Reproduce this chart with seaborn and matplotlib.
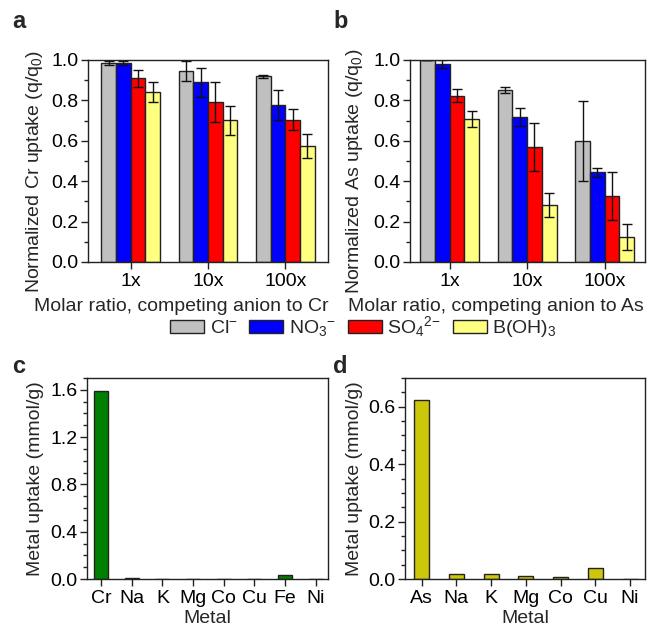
import numpy as np
import pandas as pd
import matplotlib
matplotlib.use("Agg")
import matplotlib.pyplot as plt
from matplotlib.ticker import MultipleLocator
import seaborn as sns

# ---------------- data ----------------
ratios = ["1x", "10x", "100x"]
anions = ["Cl$^{-}$", "NO$_3$$^{-}$", "SO$_4$$^{2{-}}$", "B(OH)$_3$"]

cr_cl = [0.987, 0.945, 0.920]
cr_no3 = [0.987, 0.890, 0.776]
cr_so4 = [0.909, 0.791, 0.705]
cr_boh = [0.841, 0.701, 0.575]
cr_cl_err = [0.010, 0.050, 0.007]
cr_no3_err = [0.010, 0.072, 0.075]
cr_so4_err = [0.042, 0.100, 0.050]
cr_boh_err = [0.048, 0.070, 0.060]

as_cl = [1.000, 0.851, 0.597]
as_no3 = [0.982, 0.718, 0.444]
as_so4 = [0.824, 0.569, 0.328]
as_boh = [0.710, 0.282, 0.123]
as_cl_err = [0.000, 0.016, 0.198]
as_no3_err = [0.020, 0.045, 0.022]
as_so4_err = [0.030, 0.120, 0.120]
as_boh_err = [0.040, 0.060, 0.065]

metals_c = ["Cr", "Na", "K", "Mg", "Co", "Cu", "Fe", "Ni"]
uptake_c = [1.586, 0.011, 0.0, 0.0, 0.0, 0.0, 0.031, 0.0]
metals_d = ["As", "Na", "K", "Mg", "Co", "Cu", "Ni"]
uptake_d = [0.623, 0.0185, 0.0185, 0.0104, 0.0058, 0.038, 0.0]

anion_colors = ["#C0C0C0", "#0000FF", "#FF0000", "#FFFF80"]
green = "#007F00"
olive = "#CCC70A"

# ---------------- style ----------------
sns.set_style("ticks")
plt.rcParams["font.family"] = ["Liberation Sans", "DejaVu Sans"]
plt.rcParams["mathtext.fontset"] = "custom"
plt.rcParams["mathtext.rm"] = "Liberation Sans"
plt.rcParams["mathtext.it"] = "Liberation Sans:italic"
plt.rcParams["mathtext.bf"] = "Liberation Sans:bold"
FS = 14
plt.rcParams["font.size"] = FS
plt.rcParams["axes.linewidth"] = 1.0
plt.rcParams["axes.edgecolor"] = "#222222"
plt.rcParams["xtick.color"] = "#222222"
plt.rcParams["ytick.color"] = "#222222"
plt.rcParams["xtick.labelcolor"] = "black"
plt.rcParams["ytick.labelcolor"] = "black"

W, H = 651, 627
fig = plt.figure(figsize=(W / 100, H / 100), dpi=100)


def box(l, r, t, b):
    return [l / W, 1 - b / H, (r - l) / W, (b - t) / H]


ax_a = fig.add_axes(box(88, 328, 60, 262))
ax_b = fig.add_axes(box(410, 645, 60, 262))
ax_c = fig.add_axes(box(87, 328, 378, 579))
ax_d = fig.add_axes(box(405, 645, 378, 579))


def grouped(ax, vals, errs, elem, xlim, ylab_x, xlab_x):
    rows = []
    for a, v in zip(anions, vals):
        for r, y in zip(ratios, v):
            rows.append({"ratio": r, "anion": a, "value": y})
    df = pd.DataFrame(rows)
    sns.barplot(data=df, x="ratio", y="value", hue="anion", order=ratios,
                hue_order=anions, palette=anion_colors, width=0.76,
                edgecolor="#222222", linewidth=1.0, errorbar=None,
                legend=False, ax=ax, saturation=1)
    for cont, e in zip(ax.containers, errs):
        xs = [p.get_x() + p.get_width() / 2 for p in cont]
        ys = [p.get_height() for p in cont]
        ax.errorbar(xs, ys, yerr=e, fmt="none", ecolor="#111111",
                    elinewidth=1.0, capsize=3.6, capthick=1.0)
    ax.set_ylim(0, 1.0)
    ax.set_xlim(*xlim)
    ax.yaxis.set_major_locator(MultipleLocator(0.2))
    ax.yaxis.set_minor_locator(MultipleLocator(0.1))
    ax.set_ylabel(f"Normalized {elem} uptake (q/q$_0$)", fontsize=FS)
    ax.set_xlabel(f"Molar ratio, competing anion to {elem}", fontsize=FS)
    ax.yaxis.set_label_coords(ylab_x, 0.45)
    ax.xaxis.set_label_coords(xlab_x, -0.178)
    for s in ax.spines.values():
        s.set_visible(True)


grouped(ax_a, [cr_cl, cr_no3, cr_so4, cr_boh],
        [cr_cl_err, cr_no3_err, cr_so4_err, cr_boh_err], "Cr", (-0.55, 2.55),
        -0.179, 0.3875)
grouped(ax_b, [as_cl, as_no3, as_so4, as_boh],
        [as_cl_err, as_no3_err, as_so4_err, as_boh_err], "As", (-0.51, 2.52),
        -0.191, 0.366)


def metal(ax, names, vals, color, width, ylim, major, minor, xlim, ylab_x):
    df = pd.DataFrame({"metal": names, "uptake": vals})
    sns.barplot(data=df, x="metal", y="uptake", order=names, color=color,
                width=width, edgecolor="#222222", linewidth=1.0,
                errorbar=None, ax=ax, saturation=1)
    ax.set_ylim(*ylim)
    ax.set_xlim(*xlim)
    ax.yaxis.set_major_locator(MultipleLocator(major))
    ax.yaxis.set_minor_locator(MultipleLocator(minor))
    ax.set_ylabel("Metal uptake (mmol/g)", fontsize=FS)
    ax.set_xlabel("Metal", fontsize=FS)
    ax.yaxis.set_label_coords(ylab_x, 0.5)
    ax.xaxis.set_label_coords(0.5, -0.155)
    for s in ax.spines.values():
        s.set_visible(True)


metal(ax_c, metals_c, uptake_c, green, 0.46, (0, 1.7), 0.4, 0.1, (-0.46, 7.4), -0.178)
metal(ax_d, metals_d, uptake_d, olive, 0.43, (0, 0.7), 0.2, 0.05, (-0.48, 6.43), -0.175)

for ax in (ax_a, ax_b, ax_c, ax_d):
    ax.tick_params(axis="both", which="major", direction="out", length=5,
                   width=1.0, labelsize=FS, pad=2)
    ax.tick_params(axis="x", which="major", pad=3)
    ax.tick_params(axis="y", which="minor", direction="out", length=3, width=1.0)
    ax.tick_params(axis="x", which="minor", bottom=False)

# panel letters
for lbl, x, y in [("a", 12, 22), ("b", 333, 22), ("c", 12, 366), ("d", 333, 366)]:
    fig.text(x / W, 1 - y / H, lbl, fontsize=17, fontweight="bold",
             ha="left", va="center")

# legend
handles = [plt.Rectangle((0, 0), 1, 1, facecolor=c, edgecolor="#222222",
                         linewidth=1.0) for c in anion_colors]
fig.legend(handles, anions, loc="center", bbox_to_anchor=(0.558, 1 - 327 / H),
           ncol=4, frameon=False, fontsize=FS, handlelength=1.75,
           handleheight=0.6, handletextpad=0.3, columnspacing=0.6)

fig.savefig("out.png", dpi=100)
